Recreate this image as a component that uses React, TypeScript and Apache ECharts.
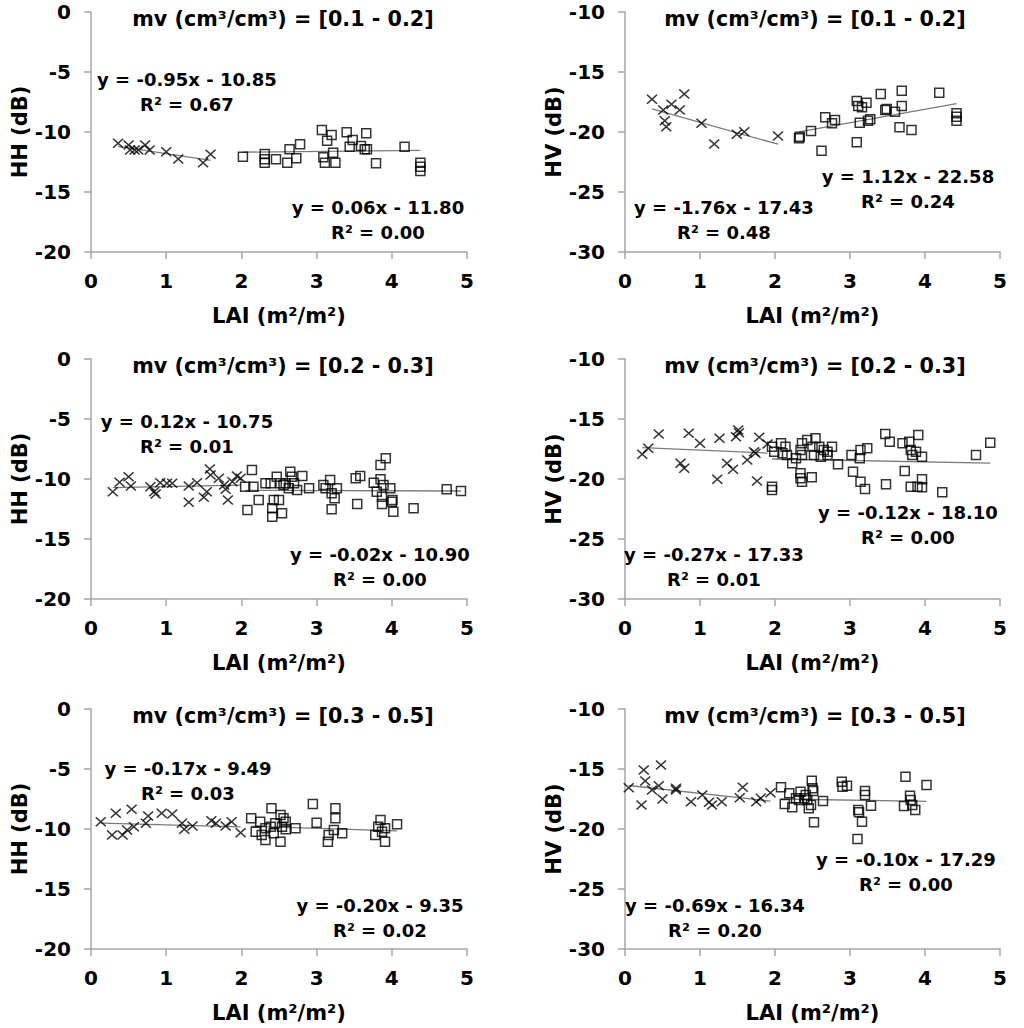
import React, { useEffect, useRef } from "react";
import * as echarts from "echarts";

// ---------- data ----------
const xTicks = [0, 1, 2, 3, 4, 5];
const panelTitles = [
  "mv (cm³/cm³) = [0.1 - 0.2]",
  "mv (cm³/cm³) = [0.1 - 0.2]",
  "mv (cm³/cm³) = [0.2 - 0.3]",
  "mv (cm³/cm³) = [0.2 - 0.3]",
  "mv (cm³/cm³) = [0.3 - 0.5]",
  "mv (cm³/cm³) = [0.3 - 0.5]",
];
const yNames = ["HH (dB)", "HV (dB)", "HH (dB)", "HV (dB)", "HH (dB)", "HV (dB)"];
const yMins = [-20, -30, -20, -30, -20, -30];
const yMaxs = [0, -10, 0, -10, 0, -10];

const hh1Cross = [[0.36,-10.94],[0.5,-11.08],[0.52,-11.5],[0.58,-11.5],[0.63,-11.5],[0.72,-11.08],[0.78,-11.5],[1.0,-11.64],[1.16,-12.25],[1.49,-12.56],[1.59,-11.86]];
const hh1Square = [[2.02,-12.06],[2.31,-11.83],[2.31,-12.28],[2.31,-12.56],[2.46,-12.28],[2.61,-12.56],[2.64,-11.44],[2.73,-12.19],[2.78,-11.03],[3.07,-9.83],[3.09,-12.11],[3.11,-12.56],[3.14,-10.73],[3.2,-10.25],[3.22,-11.73],[3.25,-12.56],[3.4,-10.03],[3.44,-11.22],[3.48,-10.67],[3.59,-11.17],[3.64,-11.44],[3.66,-10.11],[3.67,-11.44],[3.79,-12.61],[4.17,-11.22],[4.38,-12.56],[4.38,-12.89],[4.38,-13.25]];
const hv1Cross = [[0.36,-17.28],[0.51,-18.17],[0.53,-19.06],[0.55,-19.56],[0.62,-17.69],[0.73,-18.17],[0.79,-16.83],[1.02,-19.28],[1.19,-21.0],[1.49,-20.19],[1.59,-19.98],[2.04,-20.33]];
const hv1Square = [[2.32,-20.53],[2.33,-20.39],[2.48,-19.92],[2.62,-21.56],[2.67,-18.78],[2.76,-19.28],[2.8,-19.0],[3.09,-17.42],[3.09,-20.86],[3.11,-17.83],[3.13,-19.22],[3.16,-17.94],[3.22,-17.56],[3.24,-19.06],[3.27,-18.94],[3.41,-16.83],[3.47,-18.17],[3.49,-18.08],[3.6,-18.31],[3.66,-19.61],[3.69,-16.56],[3.69,-17.83],[3.82,-19.83],[4.19,-16.72],[4.42,-18.44],[4.42,-18.72],[4.42,-19.06]];
const hh2Cross = [[0.29,-11.06],[0.38,-10.27],[0.5,-9.81],[0.53,-10.58],[0.79,-10.64],[0.84,-11.06],[0.86,-11.25],[0.92,-10.31],[1.01,-10.36],[1.08,-10.36],[1.3,-10.58],[1.3,-11.94],[1.41,-10.31],[1.5,-11.53],[1.54,-11.06],[1.58,-9.17],[1.59,-9.67],[1.7,-9.94],[1.77,-10.5],[1.79,-10.86],[1.82,-11.75],[1.88,-10.22],[1.94,-9.75],[1.99,-9.94]];
const hh2Square = [[2.14,-9.25],[2.05,-10.64],[2.08,-12.58],[2.16,-10.64],[2.23,-11.75],[2.32,-10.36],[2.39,-10.36],[2.43,-11.75],[2.41,-12.44],[2.41,-13.14],[2.47,-9.81],[2.54,-12.86],[2.52,-10.36],[2.59,-10.36],[2.65,-9.39],[2.67,-9.81],[2.56,-10.5],[2.7,-10.36],[2.63,-10.78],[2.74,-10.92],[2.81,-9.75],[2.9,-10.78],[2.5,-11.75],[3.09,-10.5],[3.18,-10.08],[3.12,-10.78],[3.2,-11.19],[3.27,-10.78],[3.24,-11.61],[3.2,-12.53],[3.52,-9.94],[3.58,-9.75],[3.54,-12.08],[3.85,-8.83],[3.92,-8.28],[3.76,-10.31],[3.85,-10.03],[3.89,-10.5],[3.8,-11.06],[3.98,-10.78],[3.87,-11.47],[3.87,-12.08],[4.0,-11.89],[4.02,-12.72],[4.01,-11.75],[4.29,-12.44],[4.73,-10.86],[4.92,-11.0]];
const hv2Cross = [[0.23,-17.94],[0.31,-17.44],[0.45,-16.25],[0.74,-18.69],[0.79,-19.11],[0.85,-16.19],[1.0,-17.03],[1.23,-20.03],[1.26,-16.61],[1.36,-18.69],[1.44,-19.19],[1.48,-16.47],[1.51,-15.92],[1.52,-16.14],[1.63,-18.42],[1.72,-17.72],[1.74,-17.86],[1.76,-20.17],[1.79,-16.53],[1.9,-17.08]];
const hv2Square = [[1.96,-17.31],[1.99,-17.72],[2.08,-17.03],[2.1,-17.86],[2.14,-17.31],[2.16,-18.0],[2.23,-18.69],[2.28,-18.28],[2.34,-17.58],[2.36,-17.03],[2.34,-19.53],[2.34,-19.94],[1.96,-20.64],[1.96,-20.92],[2.43,-16.75],[2.54,-16.61],[2.5,-17.31],[2.59,-17.31],[2.65,-17.58],[2.7,-17.72],[2.76,-17.31],[2.36,-18.0],[2.52,-18.0],[2.61,-18.14],[2.7,-18.0],[2.36,-20.22],[2.49,-19.86],[2.84,-18.78],[3.02,-18.0],[3.13,-18.28],[3.14,-17.58],[3.23,-17.44],[3.04,-19.39],[3.14,-20.22],[3.2,-20.83],[3.47,-16.25],[3.53,-16.89],[3.48,-20.44],[3.7,-17.03],[3.79,-16.89],[3.91,-16.33],[3.81,-17.58],[3.88,-17.72],[3.96,-18.14],[3.83,-18.0],[3.73,-19.33],[3.81,-20.64],[3.9,-20.64],[3.96,-20.03],[3.96,-20.69],[4.23,-21.11],[4.68,-18.0],[4.87,-16.97]];
const hh3Cross = [[0.13,-9.39],[0.33,-8.69],[0.28,-10.5],[0.42,-10.5],[0.48,-10.08],[0.54,-8.36],[0.57,-9.81],[0.73,-9.53],[0.76,-8.92],[0.94,-8.69],[1.08,-8.75],[1.21,-9.53],[1.24,-10.03],[1.35,-9.75],[1.6,-9.31],[1.66,-9.53],[1.79,-9.75],[1.87,-9.39],[1.99,-10.31]];
const hh3Square = [[2.13,-9.11],[2.25,-9.39],[2.19,-10.22],[2.4,-8.28],[2.32,-9.94],[2.39,-9.81],[2.45,-9.53],[2.52,-8.83],[2.56,-9.11],[2.54,-9.81],[2.59,-9.39],[2.59,-10.03],[2.72,-9.94],[2.27,-10.5],[2.32,-10.92],[2.52,-11.06],[2.43,-10.36],[2.95,-7.92],[3.0,-9.47],[3.25,-8.28],[3.25,-9.11],[3.23,-10.08],[3.16,-10.5],[3.15,-11.06],[3.34,-10.36],[3.85,-9.25],[3.82,-9.81],[3.91,-9.94],[4.07,-9.61],[3.78,-10.5],[3.91,-11.06],[3.87,-10.22]];
const hv3Cross = [[0.05,-16.56],[0.25,-15.08],[0.48,-14.67],[0.27,-16.0],[0.36,-16.75],[0.45,-16.39],[0.22,-18.0],[0.5,-17.5],[0.68,-16.61],[0.68,-16.75],[0.88,-17.72],[1.03,-17.17],[1.12,-17.78],[1.16,-18.0],[1.29,-17.72],[1.53,-17.39],[1.57,-16.53],[1.75,-17.72],[1.81,-17.44],[1.94,-16.97]];
const hv3Square = [[2.08,-16.53],[2.19,-17.03],[2.13,-17.92],[2.23,-18.19],[2.28,-17.44],[2.32,-17.58],[2.34,-16.89],[2.39,-17.44],[2.41,-17.17],[2.43,-17.58],[2.49,-15.97],[2.5,-16.61],[2.51,-16.83],[2.48,-18.0],[2.45,-18.28],[2.52,-19.44],[2.64,-17.67],[2.89,-16.06],[2.9,-16.47],[2.96,-16.39],[3.2,-16.83],[3.2,-17.17],[3.28,-18.06],[3.11,-18.42],[3.12,-18.61],[3.16,-19.39],[3.1,-20.83],[3.74,-15.64],[3.8,-17.22],[3.81,-17.58],[3.72,-18.08],[3.83,-18.0],[3.87,-18.42],[4.02,-16.33]];

// regression [slope, intercept] and R²
const crossFits = [[-0.95,-10.85],[-1.76,-17.43],[0.12,-10.75],[-0.27,-17.33],[-0.17,-9.49],[-0.69,-16.34]];
const crossR2 = [0.67, 0.48, 0.01, 0.01, 0.03, 0.20];
const squareFits = [[0.06,-11.80],[1.12,-22.58],[-0.02,-10.90],[-0.12,-18.10],[-0.20,-9.35],[-0.10,-17.29]];
const squareR2 = [0.00, 0.24, 0.00, 0.00, 0.02, 0.00];

const crossSets = [hh1Cross, hv1Cross, hh2Cross, hv2Cross, hh3Cross, hv3Cross];
const squareSets = [hh1Square, hv1Square, hh2Square, hv2Square, hh3Square, hv3Square];

// ---------- layout ----------
const FONT = '"DejaVu Sans", sans-serif';
const GRAY = "#a6a6a6";
const colLeft = [91, 625];
const colWidth = [376, 375];
const rowTop = [12, 359, 709];
const plotH = 240;
const titleX = [283, 815];
const crossEqPos = [[187, 92], [724, 220], [187, 434], [714, 567], [188, 781], [715, 918]];
const squareEqPos = [[378, 220], [908, 189], [380, 567], [908, 525], [380, 918], [906, 872]];

const CROSS = "path://M0,0L10,10M10,0L0,10";

function fitLine(pts: number[][], fit: number[]) {
  const xs = pts.map((p) => p[0]);
  const x0 = Math.min(...xs);
  const x1 = Math.max(...xs);
  return [
    [x0, fit[0] * x0 + fit[1]],
    [x1, fit[0] * x1 + fit[1]],
  ];
}

function eqText(fit: number[], r2: number) {
  const b = fit[1];
  return `y = ${fit[0].toFixed(2)}x ${b < 0 ? "-" : "+"} ${Math.abs(b).toFixed(2)}\nR² = ${r2.toFixed(2)}`;
}

function buildOption() {
  const grid: any[] = [];
  const xAxis: any[] = [];
  const yAxis: any[] = [];
  const series: any[] = [];
  const graphic: any[] = [];
  const lab = { color: "#000", fontWeight: "bold", fontFamily: FONT };

  for (let i = 0; i < 6; i++) {
    const row = Math.floor(i / 2);
    const col = i % 2;
    grid.push({ left: colLeft[col], top: rowTop[row], width: colWidth[col], height: plotH });
    xAxis.push({
      type: "value",
      gridIndex: i,
      min: xTicks[0],
      max: xTicks[xTicks.length - 1],
      interval: 1,
      axisLine: { show: true, onZero: false, lineStyle: { color: GRAY, width: 1.5 } },
      axisTick: { show: true, inside: false, length: 7, lineStyle: { color: GRAY, width: 1.5 } },
      splitLine: { show: false },
      axisLabel: { ...lab, fontSize: 20, margin: 19 },
      name: "LAI (m²/m²)",
      nameLocation: "middle",
      nameGap: 53,
      nameTextStyle: { ...lab, fontSize: 21 },
    });
    yAxis.push({
      type: "value",
      gridIndex: i,
      min: yMins[i],
      max: yMaxs[i],
      interval: 5,
      axisLine: { show: true, onZero: false, lineStyle: { color: GRAY, width: 1.5 } },
      axisTick: { show: true, inside: false, length: 7, lineStyle: { color: GRAY, width: 1.5 } },
      splitLine: { show: false },
      axisLabel: { ...lab, fontSize: 20, margin: 20 },
      name: yNames[i],
      nameLocation: "middle",
      nameGap: 48,
      nameTextStyle: { ...lab, fontSize: 21 },
    });
    const lineStyle = { color: "#7a7a7a", width: 1.3 };
    series.push({
      type: "line", xAxisIndex: i, yAxisIndex: i, data: fitLine(crossSets[i], crossFits[i]),
      symbol: "none", lineStyle, silent: true, z: 2,
    });
    series.push({
      type: "line", xAxisIndex: i, yAxisIndex: i, data: fitLine(squareSets[i], squareFits[i]),
      symbol: "none", lineStyle, silent: true, z: 2,
    });
    series.push({
      type: "scatter", xAxisIndex: i, yAxisIndex: i, data: crossSets[i],
      symbol: CROSS, symbolSize: [10, 9],
      itemStyle: { color: "rgba(0,0,0,0)", borderColor: "#000", borderWidth: 1.5 }, z: 3,
    });
    series.push({
      type: "scatter", xAxisIndex: i, yAxisIndex: i, data: squareSets[i],
      symbol: "rect", symbolSize: 9,
      itemStyle: { color: "rgba(0,0,0,0)", borderColor: "#000", borderWidth: 1.5 }, z: 3,
    });

    const txt = (text: string, x: number, y: number, size: number) => ({
      type: "text",
      x,
      y,
      z: 10,
      style: {
        text,
        fill: "#000",
        font: `bold ${size}px ${FONT}`,
        fontSize: size,
        fontWeight: "bold",
        fontFamily: FONT,
        align: "center",
        verticalAlign: "middle",
        textAlign: "center",
        textVerticalAlign: "middle",
        lineHeight: 25,
      },
    });
    graphic.push(txt(panelTitles[i], titleX[col], rowTop[row] + 7, 20.7));
    graphic.push(txt(eqText(crossFits[i], crossR2[i]), crossEqPos[i][0], crossEqPos[i][1], 18));
    graphic.push(txt(eqText(squareFits[i], squareR2[i]), squareEqPos[i][0], squareEqPos[i][1], 18));
  }

  return {
    animation: false,
    backgroundColor: "#fff",
    textStyle: { fontFamily: FONT },
    grid,
    xAxis,
    yAxis,
    series,
    graphic,
  };
}

export default function App() {
  const ref = useRef<HTMLDivElement>(null);
  useEffect(() => {
    if (!ref.current) return;
    const chart = echarts.init(ref.current, null, { renderer: "svg" });
    chart.setOption(buildOption() as any);
    return () => chart.dispose();
  }, []);
  return (
    <div
      ref={ref}
      style={{ position: "fixed", left: 0, top: 0, width: 1024, height: 1028, background: "#fff" }}
    />
  );
}
